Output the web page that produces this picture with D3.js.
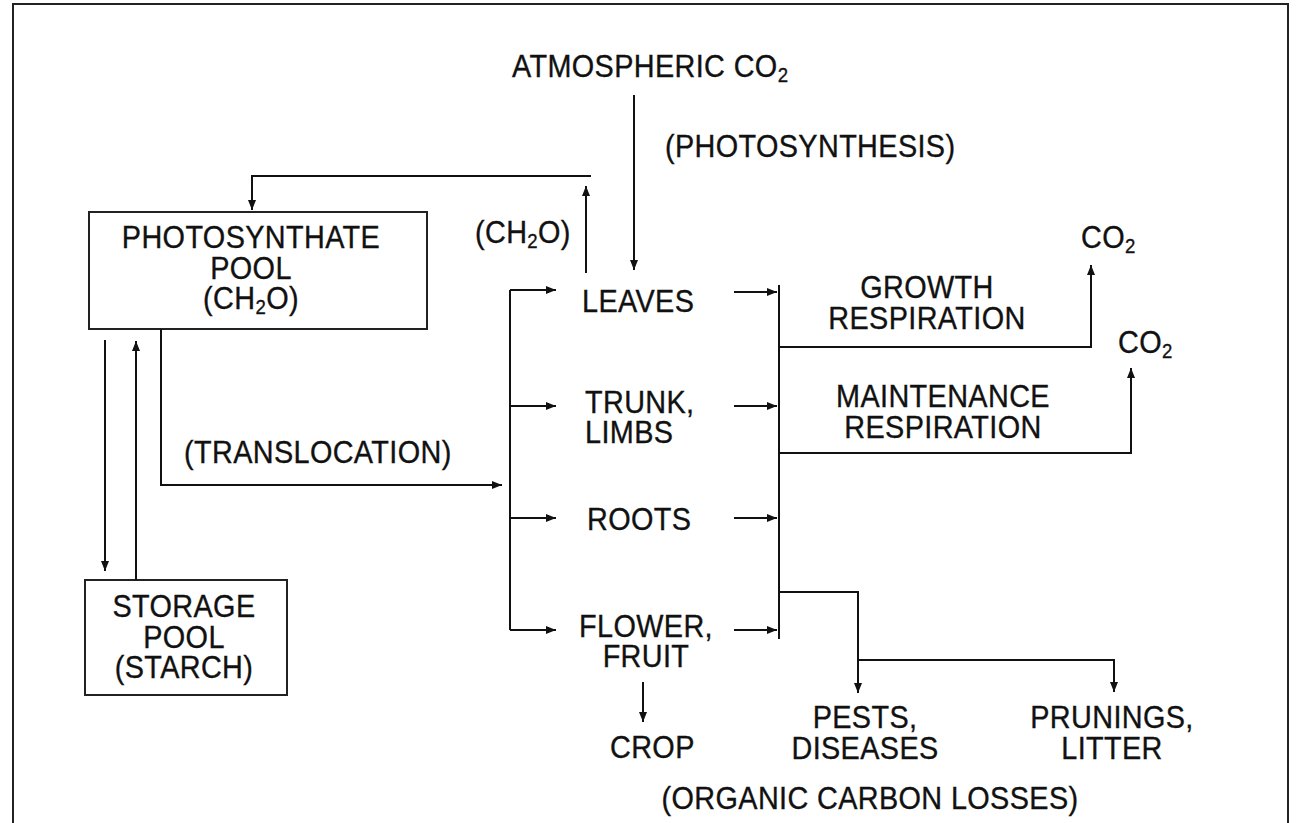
<!DOCTYPE html>
<html>
<head>
<meta charset="utf-8">
<script src="https://cdn.jsdelivr.net/npm/d3@7"></script>
<style>
  body { margin: 0; background: #fff; }
  svg text { font-family: "Liberation Sans", Arial, sans-serif; font-size: 31px; letter-spacing: 0.4px; fill: #111; stroke: #111; stroke-width: 0.35px; }
</style>
</head>
<body>
<div id="chart"></div>
<script>
// diagram content
var organs = ["LEAVES", "TRUNK", "ROOTS", "FLOWER"];
var organLabels = [["LEAVES"], ["TRUNK,", "LIMBS"], ["ROOTS"], ["FLOWER,", "FRUIT"]];
var poolLabels = [["PHOTOSYNTHATE", "POOL", "(CH|2|O)"], ["STORAGE", "POOL", "(STARCH)"]];
var respLabels = [["GROWTH", "RESPIRATION"], ["MAINTENANCE", "RESPIRATION"]];
var lossLabels = [["PESTS,", "DISEASES"], ["PRUNINGS,", "LITTER"]];
var processLabels = ["(PHOTOSYNTHESIS)", "(TRANSLOCATION)", "(ORGANIC CARBON LOSSES)"];

var width = 1301, height = 823;

var svg = d3.select("#chart").append("svg")
    .attr("width", width)
    .attr("height", height);

svg.append("defs").append("marker")
    .attr("id", "head")
    .attr("markerUnits", "userSpaceOnUse")
    .attr("viewBox", "0 -5 10 10")
    .attr("refX", 10).attr("refY", 0)
    .attr("markerWidth", 11).attr("markerHeight", 10)
    .attr("orient", "auto")
    .append("path")
    .attr("d", "M0,-4L10,0L0,4Z")
    .attr("fill", "#111");

// rows of the organ list
var row = d3.scaleOrdinal().domain(organs).range([290, 406, 518, 630]);

// columns
var xSplit = 510, xOrganTip = 556, xOutStart = 734, xJoin = 779;

// outer frame
svg.append("rect")
    .attr("x", 13).attr("y", 4)
    .attr("width", 1275).attr("height", 840)
    .attr("fill", "none").attr("stroke", "#222").attr("stroke-width", 2);

var line = d3.line();

function path(pts, arrow) {
  svg.append("path")
    .attr("d", line(pts))
    .attr("fill", "none")
    .attr("stroke", "#111")
    .attr("stroke-width", 2)
    .attr("marker-end", arrow ? "url(#head)" : null);
}

// text with optional subscript, written as "A|2|B"; narrowed to look condensed
function label(x, y, s, anchor) {
  var parts = s.split("|");
  var t = svg.append("text")
    .attr("transform", "translate(" + x + "," + y + ") scale(0.93,1)")
    .attr("text-anchor", anchor || "start");
  t.append("tspan").text(parts[0]);
  if (parts.length > 1) {
    t.append("tspan").attr("font-size", 20).attr("dy", 5).text(parts[1]);
    if (parts[2]) t.append("tspan").attr("dy", -5).text(parts[2]);
  }
  return t;
}

function block(x, y0, lines, step, anchor) {
  lines.forEach(function (s, i) { label(x, y0 + i * step, s, anchor); });
}

// pools
var boxes = [
  { x0: 89, x1: 427, y0: 212, y1: 329, cx: 251, base: 248 },
  { x0: 85, x1: 287, y0: 580, y1: 695, cx: 184, base: 617 }
];
boxes.forEach(function (b, i) {
  svg.append("rect")
    .attr("x", b.x0).attr("y", b.y0)
    .attr("width", b.x1 - b.x0).attr("height", b.y1 - b.y0)
    .attr("fill", "none").attr("stroke", "#222").attr("stroke-width", 2);
  block(b.cx, b.base, poolLabels[i], 30.5, "middle");
});

// atmospheric CO2 and photosynthesis
label(512, 77, "ATMOSPHERIC CO|2");
label(665, 157, processLabels[0]);
path([[634, 95], [634, 270]], true);

// leaves -> pool feedback
label(475, 243, "(CH|2|O)");
path([[586, 273], [586, 186]], true);
path([[591, 176], [252, 176], [252, 210]], true);

// pool <-> storage
path([[105, 340], [105, 571]], true);
path([[136, 580], [136, 341]], true);

// translocation
label(184, 463, processLabels[1]);
path([[161, 329], [161, 485], [502, 485]], true);
path([[xSplit, row("LEAVES")], [xSplit, row("FLOWER")]], false);

organs.forEach(function (o, i) {
  var y = row(o);
  path([[xSplit, y], [xOrganTip, y]], true);
  path([[xOutStart, y + (i === 0 ? 2 : 0)], [xJoin - 2, y + (i === 0 ? 2 : 0)]], true);
});

// organ labels
label(582, 312, organLabels[0][0]);
block(585, 413, organLabels[1], 30);
label(587, 530, organLabels[2][0]);
block(646, 637, organLabels[3], 30, "middle");

// crop
path([[643, 682], [643, 722]], true);
label(610, 758, "CROP");

// join line on the right
path([[xJoin, 285], [xJoin, 639]], false);

// respiration
path([[xJoin, 347], [1091, 347], [1091, 265]], true);
path([[xJoin, 453], [1131, 453], [1131, 368]], true);
block(927, 298, respLabels[0], 31, "middle");
block(943, 407, respLabels[1], 31, "middle");
label(1081, 248, "CO|2");
label(1118, 353, "CO|2");

// organic losses
path([[xJoin, 592], [858, 592], [858, 693]], true);
path([[858, 660], [1114, 660], [1114, 692]], true);
block(865, 728, lossLabels[0], 31, "middle");
block(1112, 728, lossLabels[1], 31, "middle");
label(870, 809, processLabels[2], "middle");
</script>
</body>
</html>
